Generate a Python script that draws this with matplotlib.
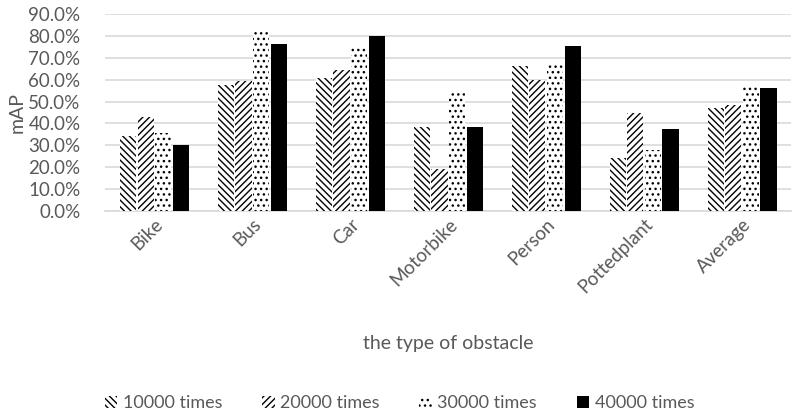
import numpy as np
import matplotlib.pyplot as plt
from matplotlib.ticker import PercentFormatter

plt.rcParams["font.family"] = ["Lato", "DejaVu Sans"]
plt.rcParams["hatch.linewidth"] = 1.0

categories = ["Bike", "Bus", "Car", "Motorbike", "Person", "Pottedplant", "Average"]
series_names = ["10000 times", "20000 times", "30000 times", "40000 times"]
v10000 = [34.3, 57.6, 60.6, 38.5, 66.4, 24.1, 46.9]
v20000 = [42.8, 59.4, 64.4, 19.0, 59.8, 44.9, 48.4]
v30000 = [35.5, 83.1, 75.1, 53.8, 67.0, 27.9, 57.1]
v40000 = [30.0, 76.1, 80.1, 38.5, 75.2, 37.5, 56.2]
values = [v10000, v20000, v30000, v40000]

hatches = ["\\\\\\\\\\", "/////", "...", None]
faces = ["white", "white", "white", "black"]
GRAY = "#595959"

fig = plt.figure(figsize=(7.99, 4.15), dpi=100)
ax = fig.add_axes([0.132, 0.492, 0.858, 0.474])

x = np.arange(len(categories))
w = 0.165
step = 0.18
for i, (vals, name) in enumerate(zip(values, series_names)):
    ax.bar(x + (i - 1.5) * step, vals, width=w, color=faces[i],
           hatch=hatches[i], edgecolor="black",
           linewidth=0, label=name, zorder=3)

ax.set_xlim(-0.5, len(categories) - 0.5)
ax.set_ylim(0, 90)
ax.set_yticks(np.arange(0, 91, 10))
ax.yaxis.set_major_formatter(PercentFormatter(decimals=1))
ax.grid(axis="y", color="#d9d9d9", lw=1.2, zorder=0)
for s in ["top", "right", "left"]:
    ax.spines[s].set_visible(False)
ax.spines["bottom"].set_color("#d9d9d9")
ax.spines["bottom"].set_linewidth(1.2)
ax.tick_params(axis="both", length=0, colors=GRAY, labelsize=13.5)
ax.tick_params(axis="y", pad=18)
ax.set_xticks(x)
ax.set_xticklabels(categories, rotation=45, ha="right", rotation_mode="anchor")
ax.set_ylabel("mAP", color=GRAY, fontsize=14, labelpad=2)
ax.set_xlabel("the type of obstacle", color=GRAY, fontsize=14, labelpad=28)

leg = fig.legend(loc="lower center", bbox_to_anchor=(0.5, -0.03), ncol=4,
                 frameon=False, fontsize=13, handlelength=0.7, handleheight=0.7,
                 handletextpad=0.3, columnspacing=2.2)
for t in leg.get_texts():
    t.set_color(GRAY)

fig.savefig("out.png", dpi=100)
